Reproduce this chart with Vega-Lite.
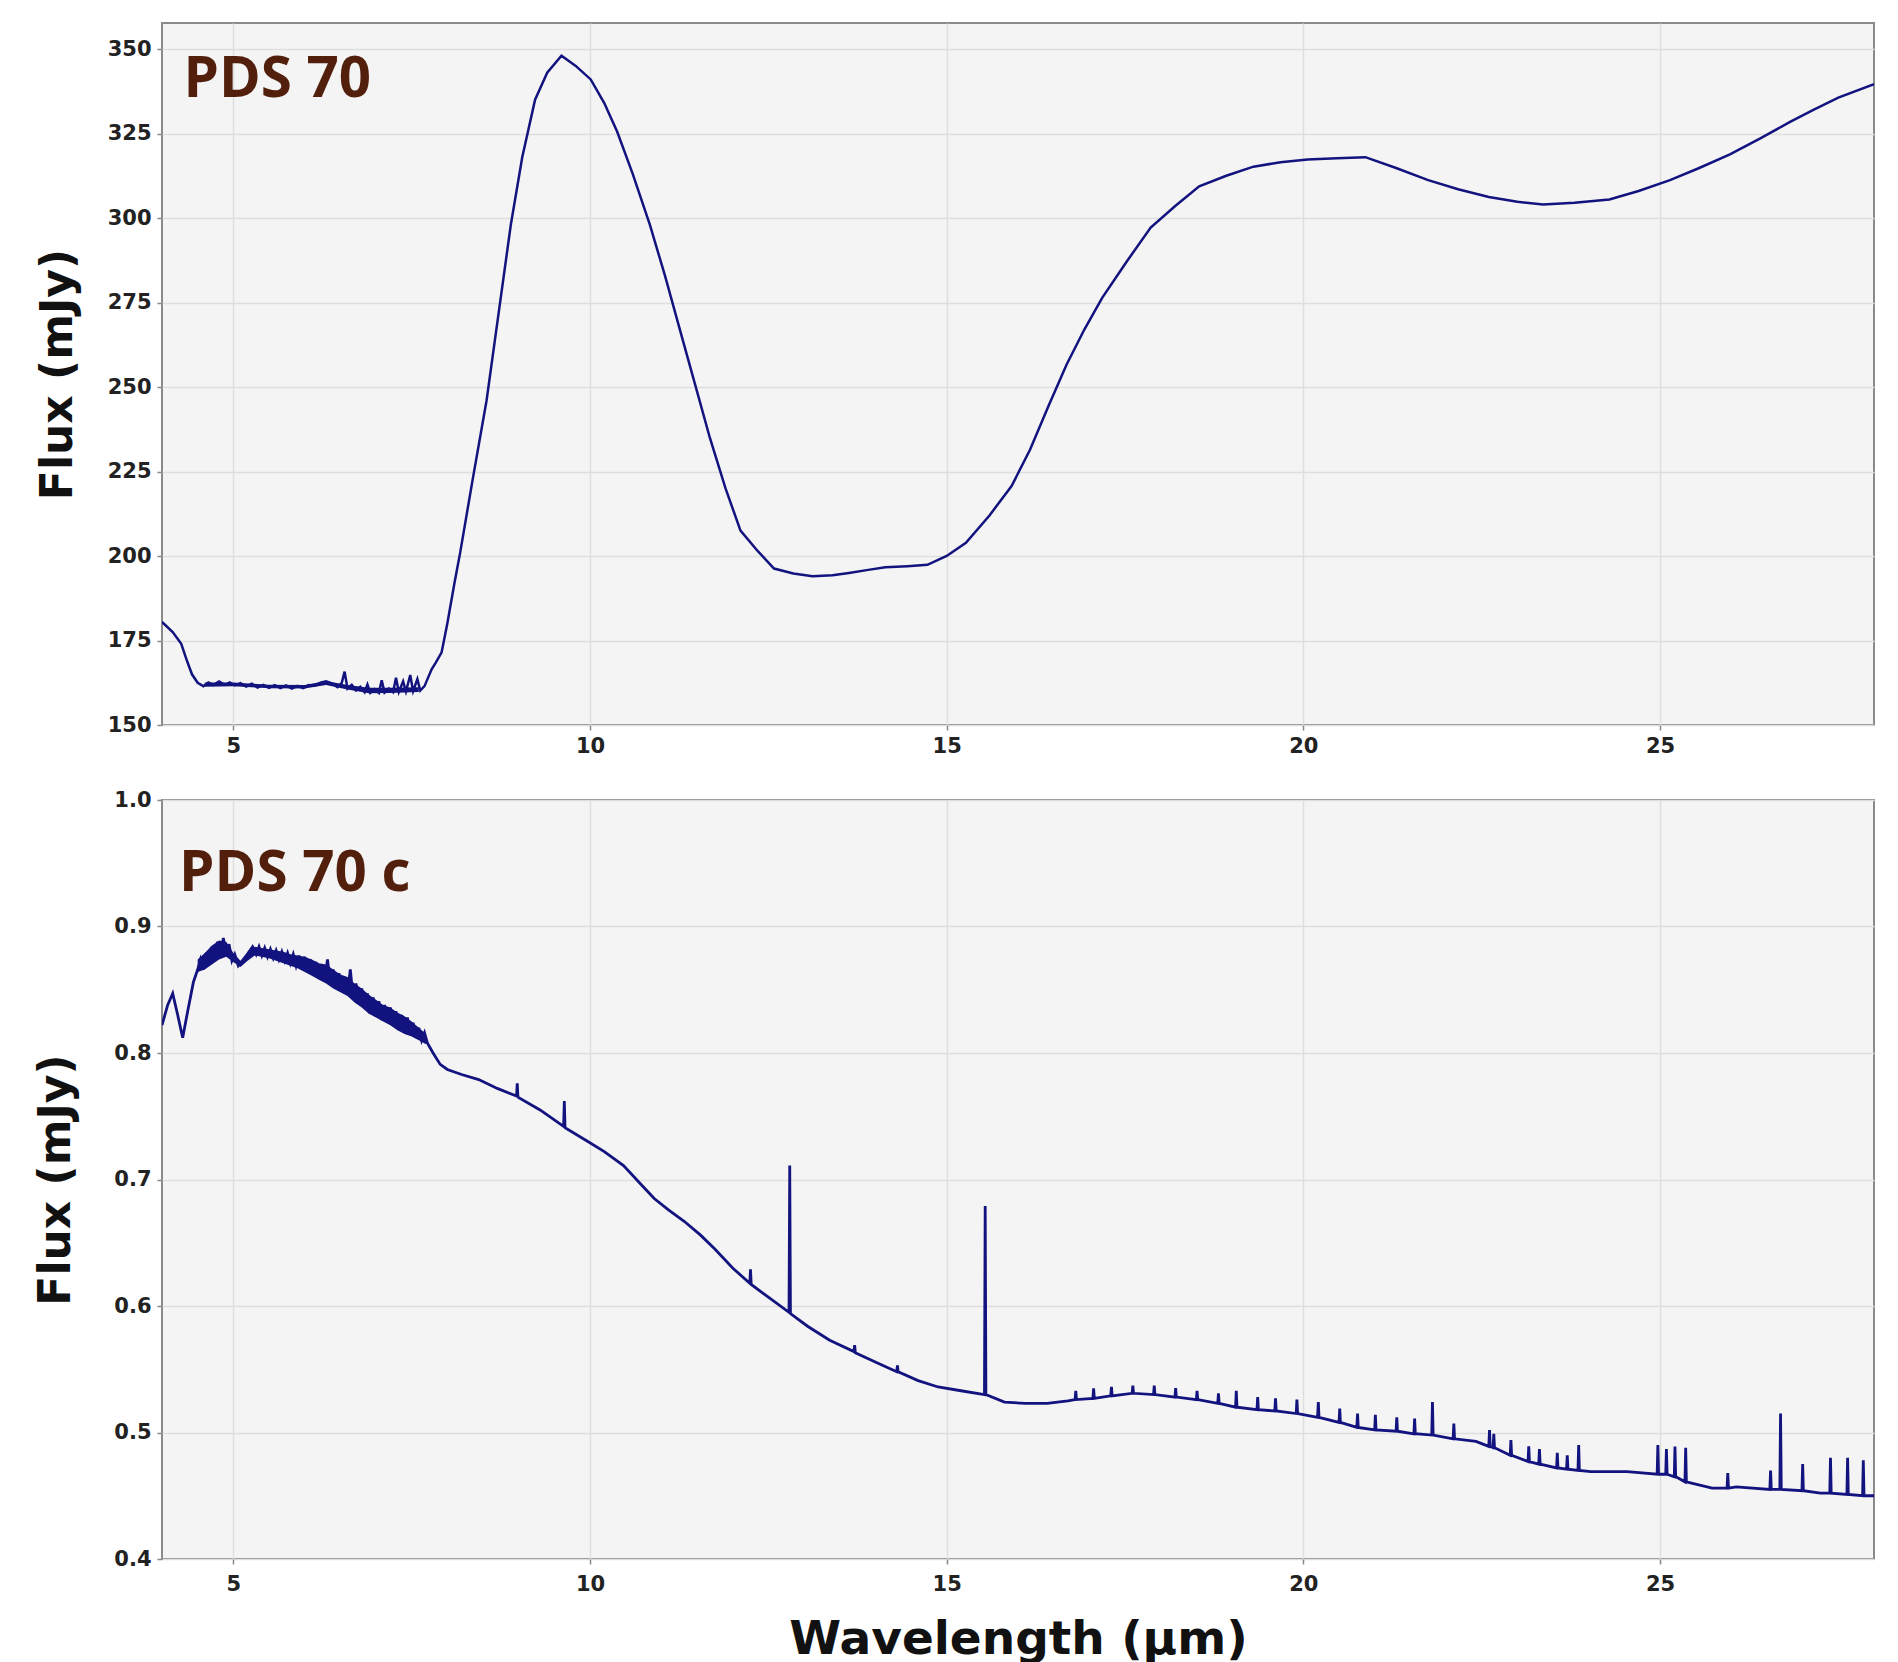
{
  "$schema": "https://vega.github.io/schema/vega-lite/v6.json",
  "background": "white",
  "padding": {"left": 33, "top": 22, "right": 0, "bottom": 0},
  "spacing": 31,
  "config": {
    "view": {"fill": "#f4f4f4", "stroke": "#8a8a8a", "strokeWidth": 2},
    "axis": {
      "labelFont": "DejaVu Sans", "labelFontWeight": "bold", "labelFontSize": 21, "labelColor": "#222222",
      "titleFont": "DejaVu Sans", "titleFontWeight": "bold", "titleColor": "#111111",
      "gridColor": "#dedede", "gridWidth": 1.5, "domain": false,
      "tickColor": "#888888", "tickSize": 5, "tickWidth": 1.5
    }
  },
  "datasets": {
    "pds70": [
      {"w":4.0,"f":180.5},{"w":4.15,"f":177.5},{"w":4.27,"f":174},{"w":4.35,"f":169},{"w":4.42,"f":165},{"w":4.5,"f":162.5},{"w":4.58,"f":161.5},{"w":4.65,"f":162.6},{"w":4.72,"f":161.8},{"w":4.8,"f":162.9},{"w":4.88,"f":161.9},{"w":4.95,"f":162.6},{"w":5.02,"f":161.7},{"w":5.1,"f":162.4},{"w":5.18,"f":161.4},{"w":5.26,"f":162.2},{"w":5.34,"f":161.1},{"w":5.42,"f":161.9},{"w":5.5,"f":161.0},{"w":5.58,"f":161.8},{"w":5.66,"f":160.9},{"w":5.74,"f":161.7},{"w":5.82,"f":160.8},{"w":5.9,"f":161.6},{"w":5.98,"f":160.9},{"w":6.06,"f":161.8},{"w":6.14,"f":161.6},{"w":6.22,"f":162.5},{"w":6.3,"f":162.9},{"w":6.38,"f":162.3},{"w":6.46,"f":161.2},{"w":6.52,"f":162.5},{"w":6.56,"f":165.8},{"w":6.6,"f":160.8},{"w":6.66,"f":161.9},{"w":6.72,"f":160.2},{"w":6.78,"f":161.3},{"w":6.84,"f":159.7},{"w":6.88,"f":162.0},{"w":6.92,"f":159.5},{"w":6.98,"f":160.6},{"w":7.04,"f":159.5},{"w":7.08,"f":163.2},{"w":7.12,"f":159.6},{"w":7.18,"f":160.8},{"w":7.24,"f":159.7},{"w":7.28,"f":164.0},{"w":7.32,"f":159.8},{"w":7.38,"f":162.9},{"w":7.42,"f":159.9},{"w":7.48,"f":164.8},{"w":7.52,"f":160.0},{"w":7.58,"f":163.6},{"w":7.62,"f":160.2},{"w":7.68,"f":161.5},{"w":7.72,"f":163.5},{"w":7.78,"f":166.5},{"w":7.84,"f":168.5},{"w":7.92,"f":171.5},{"w":8.0,"f":180},{"w":8.1,"f":192},{"w":8.18,"f":201},{"w":8.35,"f":222},{"w":8.55,"f":246},{"w":8.72,"f":272},{"w":8.89,"f":298},{"w":9.05,"f":318},{"w":9.23,"f":335},{"w":9.4,"f":343},{"w":9.6,"f":348},{"w":9.8,"f":345},{"w":10.01,"f":341},{"w":10.2,"f":334},{"w":10.38,"f":325.6},{"w":10.6,"f":313},{"w":10.84,"f":298},{"w":11.05,"f":283},{"w":11.26,"f":267},{"w":11.47,"f":251},{"w":11.68,"f":235},{"w":11.9,"f":220},{"w":12.11,"f":207.5},{"w":12.35,"f":201.5},{"w":12.58,"f":196.3},{"w":12.85,"f":194.8},{"w":13.12,"f":194},{"w":13.4,"f":194.3},{"w":13.63,"f":195},{"w":13.9,"f":195.9},{"w":14.14,"f":196.7},{"w":14.45,"f":197},{"w":14.73,"f":197.4},{"w":15.0,"f":200},{"w":15.27,"f":203.9},{"w":15.6,"f":212},{"w":15.91,"f":220.7},{"w":16.17,"f":231.5},{"w":16.42,"f":244},{"w":16.68,"f":256.6},{"w":16.93,"f":267},{"w":17.18,"f":276.4},{"w":17.52,"f":287},{"w":17.86,"f":297.2},{"w":18.2,"f":303.5},{"w":18.54,"f":309.4},{"w":18.92,"f":312.5},{"w":19.3,"f":315.2},{"w":19.68,"f":316.5},{"w":20.06,"f":317.3},{"w":20.47,"f":317.7},{"w":20.87,"f":318},{"w":21.3,"f":314.8},{"w":21.75,"f":311.2},{"w":22.17,"f":308.5},{"w":22.6,"f":306.2},{"w":23.0,"f":304.8},{"w":23.36,"f":304},{"w":23.8,"f":304.5},{"w":24.29,"f":305.5},{"w":24.7,"f":308},{"w":25.14,"f":311.2},{"w":25.55,"f":314.8},{"w":25.98,"f":318.8},{"w":26.4,"f":323.5},{"w":26.83,"f":328.5},{"w":27.15,"f":332},{"w":27.5,"f":335.6},{"w":28.0,"f":339.6}
    ],
    "pds70band": [
      {"w":4.6,"lo":161.3,"hi":162.6},{"w":5.0,"lo":161.5,"hi":162.6},{"w":5.5,"lo":160.9,"hi":161.9},{"w":6.0,"lo":160.8,"hi":161.8},{"w":6.3,"lo":161.8,"hi":163.0},{"w":6.6,"lo":160.5,"hi":161.8},{"w":6.9,"lo":159.4,"hi":161.0},{"w":7.2,"lo":159.5,"hi":161.0},{"w":7.6,"lo":159.8,"hi":161.2}
    ],
    "pds70cband": [
      {"w":4.5,"lo":0.864,"hi":0.874},{"w":4.6,"lo":0.866,"hi":0.879},{"w":4.7,"lo":0.87,"hi":0.885},{"w":4.8,"lo":0.874,"hi":0.889},{"w":4.9,"lo":0.876,"hi":0.888},{"w":5.0,"lo":0.872,"hi":0.879},{"w":5.1,"lo":0.868,"hi":0.873},{"w":5.2,"lo":0.873,"hi":0.88},{"w":5.3,"lo":0.877,"hi":0.884},{"w":5.4,"lo":0.876,"hi":0.883},{"w":5.5,"lo":0.875,"hi":0.882},{"w":5.6,"lo":0.873,"hi":0.881},{"w":5.7,"lo":0.871,"hi":0.88},{"w":5.8,"lo":0.869,"hi":0.878},{"w":5.9,"lo":0.867,"hi":0.877},{"w":6.0,"lo":0.864,"hi":0.876},{"w":6.1,"lo":0.861,"hi":0.874},{"w":6.2,"lo":0.858,"hi":0.871},{"w":6.3,"lo":0.855,"hi":0.87},{"w":6.4,"lo":0.851,"hi":0.866},{"w":6.5,"lo":0.848,"hi":0.862},{"w":6.6,"lo":0.845,"hi":0.86},{"w":6.7,"lo":0.84,"hi":0.855},{"w":6.8,"lo":0.836,"hi":0.851},{"w":6.9,"lo":0.831,"hi":0.846},{"w":7.0,"lo":0.828,"hi":0.842},{"w":7.1,"lo":0.825,"hi":0.838},{"w":7.2,"lo":0.822,"hi":0.836},{"w":7.3,"lo":0.818,"hi":0.832},{"w":7.4,"lo":0.815,"hi":0.829},{"w":7.5,"lo":0.813,"hi":0.825},{"w":7.6,"lo":0.81,"hi":0.82},{"w":7.7,"lo":0.807,"hi":0.815}
    ],
    "pds70c": [
      {"w":4.0,"f":0.822},{"w":4.08,"f":0.838},{"w":4.15,"f":0.847},{"w":4.22,"f":0.83},{"w":4.29,"f":0.812},{"w":4.36,"f":0.833},{"w":4.44,"f":0.856},{"w":4.5,"f":0.866},{"w":4.54,"f":0.874},{"w":4.58,"f":0.866},{"w":4.62,"f":0.879},{"w":4.66,"f":0.87},{"w":4.7,"f":0.884},{"w":4.74,"f":0.873},{"w":4.78,"f":0.888},{"w":4.82,"f":0.876},{"w":4.86,"f":0.891},{"w":4.9,"f":0.877},{"w":4.94,"f":0.886},{"w":4.98,"f":0.873},{"w":5.02,"f":0.878},{"w":5.07,"f":0.869},{"w":5.12,"f":0.872},{"w":5.17,"f":0.875},{"w":5.22,"f":0.88},{"w":5.27,"f":0.884},{"w":5.32,"f":0.878},{"w":5.36,"f":0.884},{"w":5.4,"f":0.877},{"w":5.44,"f":0.883},{"w":5.48,"f":0.876},{"w":5.52,"f":0.882},{"w":5.56,"f":0.875},{"w":5.6,"f":0.881},{"w":5.64,"f":0.874},{"w":5.68,"f":0.88},{"w":5.72,"f":0.873},{"w":5.76,"f":0.879},{"w":5.8,"f":0.871},{"w":5.84,"f":0.878},{"w":5.88,"f":0.869},{"w":5.92,"f":0.877},{"w":5.96,"f":0.867},{"w":6.0,"f":0.876},{"w":6.04,"f":0.865},{"w":6.08,"f":0.874},{"w":6.12,"f":0.862},{"w":6.16,"f":0.872},{"w":6.2,"f":0.86},{"w":6.24,"f":0.869},{"w":6.28,"f":0.857},{"w":6.32,"f":0.874},{"w":6.36,"f":0.855},{"w":6.4,"f":0.866},{"w":6.44,"f":0.852},{"w":6.48,"f":0.863},{"w":6.52,"f":0.85},{"w":6.56,"f":0.86},{"w":6.6,"f":0.847},{"w":6.64,"f":0.866},{"w":6.68,"f":0.843},{"w":6.72,"f":0.855},{"w":6.76,"f":0.839},{"w":6.8,"f":0.851},{"w":6.84,"f":0.835},{"w":6.88,"f":0.847},{"w":6.92,"f":0.831},{"w":6.96,"f":0.844},{"w":7.0,"f":0.829},{"w":7.04,"f":0.841},{"w":7.08,"f":0.826},{"w":7.12,"f":0.838},{"w":7.16,"f":0.824},{"w":7.2,"f":0.836},{"w":7.24,"f":0.822},{"w":7.28,"f":0.833},{"w":7.32,"f":0.819},{"w":7.36,"f":0.83},{"w":7.4,"f":0.817},{"w":7.44,"f":0.828},{"w":7.48,"f":0.815},{"w":7.52,"f":0.824},{"w":7.56,"f":0.812},{"w":7.6,"f":0.82},{"w":7.64,"f":0.81},{"w":7.68,"f":0.816},{"w":7.72,"f":0.808},{"w":7.8,"f":0.8},{"w":7.9,"f":0.791},{"w":8.0,"f":0.787},
      {"w":8.2,"f":0.783},{"w":8.44,"f":0.779},{"w":8.7,"f":0.772},{"w":8.97,"f":0.766},{"w":8.98,"f":0.776},{"w":8.99,"f":0.765},{"w":9.3,"f":0.755},{"w":9.63,"f":0.742},{"w":9.64,"f":0.762},{"w":9.65,"f":0.741},{"w":9.97,"f":0.73},{"w":10.2,"f":0.722},{"w":10.47,"f":0.711},{"w":10.7,"f":0.697},{"w":10.9,"f":0.685},{"w":11.1,"f":0.676},{"w":11.32,"f":0.667},{"w":11.55,"f":0.656},{"w":11.75,"f":0.645},{"w":12.0,"f":0.63},{"w":12.24,"f":0.618},{"w":12.25,"f":0.629},{"w":12.26,"f":0.617},{"w":12.5,"f":0.607},{"w":12.79,"f":0.595},{"w":12.8,"f":0.711},{"w":12.81,"f":0.594},{"w":13.05,"f":0.584},{"w":13.36,"f":0.573},{"w":13.7,"f":0.564},{"w":13.71,"f":0.569},{"w":13.72,"f":0.563},{"w":14.03,"f":0.555},{"w":14.3,"f":0.548},{"w":14.31,"f":0.553},{"w":14.32,"f":0.548},{"w":14.6,"f":0.541},{"w":14.88,"f":0.536},{"w":15.2,"f":0.533},{"w":15.53,"f":0.53},{"w":15.54,"f":0.679},{"w":15.55,"f":0.53},{"w":15.81,"f":0.524},{"w":16.1,"f":0.523},{"w":16.41,"f":0.523},{"w":16.7,"f":0.525},
      {"w":16.8,"f":0.526},{"w":16.81,"f":0.533},{"w":16.82,"f":0.526},{"w":17.05,"f":0.527},{"w":17.06,"f":0.535},{"w":17.07,"f":0.527},{"w":17.3,"f":0.529},{"w":17.31,"f":0.536},{"w":17.32,"f":0.529},{"w":17.6,"f":0.531},{"w":17.61,"f":0.537},{"w":17.62,"f":0.531},{"w":17.9,"f":0.53},{"w":17.91,"f":0.537},{"w":17.92,"f":0.53},{"w":18.2,"f":0.528},{"w":18.21,"f":0.535},{"w":18.22,"f":0.528},{"w":18.5,"f":0.526},{"w":18.51,"f":0.533},{"w":18.52,"f":0.526},{"w":18.8,"f":0.523},{"w":18.81,"f":0.531},{"w":18.82,"f":0.523},{"w":19.05,"f":0.52},{"w":19.06,"f":0.533},{"w":19.07,"f":0.52},{"w":19.35,"f":0.518},{"w":19.36,"f":0.528},{"w":19.37,"f":0.518},{"w":19.6,"f":0.517},{"w":19.61,"f":0.527},{"w":19.62,"f":0.517},{"w":19.9,"f":0.515},{"w":19.91,"f":0.526},{"w":19.92,"f":0.515},{"w":20.2,"f":0.512},{"w":20.21,"f":0.524},{"w":20.22,"f":0.512},{"w":20.5,"f":0.508},{"w":20.51,"f":0.519},{"w":20.52,"f":0.508},{"w":20.75,"f":0.504},{"w":20.76,"f":0.515},{"w":20.77,"f":0.504},{"w":21.0,"f":0.502},{"w":21.01,"f":0.514},{"w":21.02,"f":0.502},{"w":21.3,"f":0.501},{"w":21.31,"f":0.512},{"w":21.32,"f":0.501},{"w":21.55,"f":0.499},{"w":21.56,"f":0.511},{"w":21.57,"f":0.499},{"w":21.8,"f":0.498},{"w":21.81,"f":0.524},{"w":21.82,"f":0.498},{"w":22.1,"f":0.495},{"w":22.11,"f":0.507},{"w":22.12,"f":0.495},{"w":22.42,"f":0.493},{"w":22.6,"f":0.489},{"w":22.61,"f":0.502},{"w":22.62,"f":0.489},{"w":22.66,"f":0.488},{"w":22.67,"f":0.499},{"w":22.68,"f":0.488},{"w":22.9,"f":0.482},{"w":22.91,"f":0.494},{"w":22.92,"f":0.482},{"w":23.15,"f":0.477},{"w":23.16,"f":0.489},{"w":23.17,"f":0.477},{"w":23.3,"f":0.475},{"w":23.31,"f":0.487},{"w":23.32,"f":0.475},{"w":23.55,"f":0.472},{"w":23.56,"f":0.484},{"w":23.57,"f":0.472},{"w":23.69,"f":0.471},{"w":23.7,"f":0.482},{"w":23.71,"f":0.471},{"w":23.85,"f":0.47},{"w":23.86,"f":0.49},{"w":23.87,"f":0.47},{"w":24.03,"f":0.469},{"w":24.54,"f":0.469},{"w":24.96,"f":0.467},{"w":24.97,"f":0.49},{"w":24.98,"f":0.467},{"w":25.08,"f":0.467},{"w":25.09,"f":0.487},{"w":25.1,"f":0.467},{"w":25.2,"f":0.465},{"w":25.21,"f":0.489},{"w":25.22,"f":0.465},{"w":25.35,"f":0.461},{"w":25.36,"f":0.488},{"w":25.37,"f":0.461},{"w":25.73,"f":0.456},{"w":25.94,"f":0.456},{"w":25.95,"f":0.468},{"w":25.96,"f":0.456},{"w":26.07,"f":0.457},{"w":26.54,"f":0.455},{"w":26.55,"f":0.47},{"w":26.56,"f":0.455},{"w":26.68,"f":0.455},{"w":26.69,"f":0.515},{"w":26.7,"f":0.455},{"w":26.99,"f":0.454},{"w":27.0,"f":0.475},{"w":27.01,"f":0.454},{"w":27.25,"f":0.452},{"w":27.38,"f":0.452},{"w":27.39,"f":0.48},{"w":27.4,"f":0.452},{"w":27.62,"f":0.451},{"w":27.63,"f":0.48},{"w":27.64,"f":0.451},{"w":27.84,"f":0.45},{"w":27.85,"f":0.478},{"w":27.86,"f":0.45},{"w":28.0,"f":0.45}
    ]
  },
  "vconcat": [
    {
      "width": 1712,
      "height": 702,
      "layer": [
        {
          "data": {"name": "pds70band"},
          "mark": {"type": "area", "color": "#13137f", "opacity": 1, "clip": true},
          "encoding": {
            "x": {"field": "w", "type": "quantitative", "scale": {"domain": [4, 28], "nice": false, "zero": false},
                  "axis": {"values": [5, 10, 15, 20, 25], "format": "d", "title": null, "labelPadding": 5}},
            "y": {"field": "lo", "type": "quantitative", "scale": {"domain": [150, 357.7], "nice": false, "zero": false},
                  "axis": {"values": [150, 175, 200, 225, 250, 275, 300, 325, 350], "title": "Flux (mJy)", "titleFontSize": 44, "titlePadding": 27, "labelPadding": 6}},
            "y2": {"field": "hi"}
          }
        },
        {
          "data": {"name": "pds70"},
          "mark": {"type": "line", "color": "#13137f", "strokeWidth": 2.5, "clip": true},
          "encoding": {
            "x": {"field": "w", "type": "quantitative"},
            "y": {"field": "f", "type": "quantitative"}
          }
        },
        {
          "data": {"values": [{}]},
          "mark": {"type": "text", "font": "Open Sans", "fontWeight": "bold", "fontSize": 56.5, "color": "#521f0c", "align": "left", "baseline": "alphabetic"},
          "encoding": {
            "x": {"datum": 4.3, "type": "quantitative"},
            "y": {"datum": 335.8, "type": "quantitative"},
            "text": {"value": "PDS 70"}
          }
        }
      ]
    },
    {
      "width": 1712,
      "height": 759,
      "layer": [
        {
          "data": {"name": "pds70cband"},
          "mark": {"type": "area", "color": "#13137f", "opacity": 1, "clip": true},
          "encoding": {
            "x": {"field": "w", "type": "quantitative", "scale": {"domain": [4, 28], "nice": false, "zero": false},
                  "axis": {"values": [5, 10, 15, 20, 25], "format": "d", "title": "Wavelength (μm)", "titleFontSize": 47, "titlePadding": 22, "labelPadding": 9}},
            "y": {"field": "lo", "type": "quantitative", "scale": {"domain": [0.4, 1.0], "nice": false, "zero": false},
                  "axis": {"values": [0.4, 0.5, 0.6, 0.7, 0.8, 0.9, 1.0], "format": ".1f", "title": "Flux (mJy)", "titleFontSize": 44, "titlePadding": 35, "labelPadding": 6}},
            "y2": {"field": "hi"}
          }
        },
        {
          "data": {"name": "pds70c"},
          "mark": {"type": "line", "color": "#13137f", "strokeWidth": 2.8, "clip": true},
          "encoding": {
            "x": {"field": "w", "type": "quantitative"},
            "y": {"field": "f", "type": "quantitative"}
          }
        },
        {
          "data": {"values": [{}]},
          "mark": {"type": "text", "font": "Open Sans", "fontWeight": "bold", "fontSize": 56.5, "color": "#521f0c", "align": "left", "baseline": "alphabetic"},
          "encoding": {
            "x": {"datum": 4.24, "type": "quantitative"},
            "y": {"datum": 0.928, "type": "quantitative"},
            "text": {"value": "PDS 70 c"}
          }
        }
      ]
    }
  ]
}
